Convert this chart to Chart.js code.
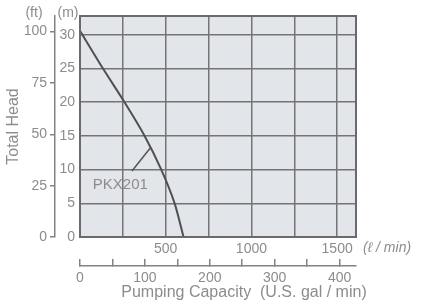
<!DOCTYPE html>
<html>
<head>
<meta charset="utf-8">
<script src="https://cdn.jsdelivr.net/npm/chart.js@4"></script>
<style>
  html, body { margin: 0; padding: 0; background: #fff; }
</style>
</head>
<body>
<canvas id="c" width="428" height="307"></canvas>
<script>
// pump curve
const flowLpm = [0, 134, 260, 377, 474, 552, 604];
const headM = [30.6, 25, 20, 15, 10, 5, 0];

const lpmTicks = [0, 250, 500, 750, 1000, 1250, 1500];
const lpmLabels = [500, 1000, 1500];
const mTicks = [0, 5, 10, 15, 20, 25, 30];
const ftTicks = [0, 25, 50, 75, 100];
const galTicks = [0, 50, 100, 150, 200, 250, 300, 350, 400];
const galLabels = [0, 100, 200, 300, 400];

const LPM_MAX = 1610;
const M_MAX = 32.8;
const FT_PER_M = 3.28084;
const L_PER_GAL = 3.78541;

const textColor = '#8c8c8c';
const gridColor = '#747474';
const axisColor = '#828282';

Chart.defaults.font.family = '"Liberation Sans", Arial, sans-serif';
Chart.defaults.font.size = 14;
Chart.defaults.color = textColor;

const setTicks = list => scale => { scale.ticks = list.map(v => ({ value: v })); };

const decor = {
  id: 'decor',
  beforeDraw(chart) {
    const { ctx, chartArea: a } = chart;
    ctx.save();
    ctx.fillStyle = '#e2e5ea';
    ctx.fillRect(a.left, a.top, a.right - a.left, a.bottom - a.top);
    ctx.restore();
  },
  afterDraw(chart) {
    const { ctx, chartArea: a, scales } = chart;
    ctx.save();
    ctx.strokeStyle = '#6a6a6a';
    ctx.lineWidth = 2;
    ctx.strokeRect(a.left, a.top, a.right - a.left, a.bottom - a.top);

    // leader line for the model name
    ctx.strokeStyle = '#555';
    ctx.lineWidth = 1.5;
    ctx.beginPath();
    ctx.moveTo(scales.x.getPixelForValue(303), scales.y.getPixelForValue(9.8));
    ctx.lineTo(scales.x.getPixelForValue(410), scales.y.getPixelForValue(13.2));
    ctx.stroke();

    ctx.fillStyle = textColor;
    ctx.textBaseline = 'middle';
    ctx.font = '15px "Liberation Sans", Arial, sans-serif';
    ctx.textAlign = 'left';
    ctx.fillText('PKX201', scales.x.getPixelForValue(75), scales.y.getPixelForValue(7.8));

    ctx.font = '14px "Liberation Sans", Arial, sans-serif';
    ctx.textAlign = 'center';
    ctx.fillText('(ft)', 34, 13);
    ctx.fillText('(m)', 68, 13);

    ctx.textAlign = 'left';
    ctx.font = 'italic 14px "Liberation Sans", Arial, sans-serif';
    ctx.fillText('(\u2113 / min)', a.right + 7, 248);

    ctx.textAlign = 'center';
    ctx.font = '16px "Liberation Sans", Arial, sans-serif';
    ctx.fillText('Pumping Capacity  (U.S. gal / min)', 244, 293);
    ctx.restore();
  }
};

new Chart(document.getElementById('c'), {
  type: 'line',
  data: {
    datasets: [{
      label: 'PKX201',
      data: flowLpm.map((f, i) => ({ x: f, y: headM[i] })),
      borderColor: '#505050',
      borderWidth: 2,
      pointRadius: 0,
      tension: 0.25
    }]
  },
  options: {
    responsive: false,
    animation: false,
    layout: { padding: { top: 16, right: 72, left: 0, bottom: 0 } },
    plugins: { legend: { display: false }, tooltip: { enabled: false } },
    scales: {
      x: {
        type: 'linear',
        position: 'bottom',
        min: 0,
        max: LPM_MAX,
        afterBuildTicks: setTicks(lpmTicks),
        afterFit: s => { s.height = 29; },
        grid: { color: gridColor, lineWidth: 1.5, drawTicks: false },
        border: { display: false },
        ticks: {
          padding: 4,
          autoSkip: false,
          maxRotation: 0,
          callback: v => lpmLabels.includes(v) ? String(v) : ''
        }
      },
      gal: {
        type: 'linear',
        position: 'bottom',
        weight: 1,
        min: 0,
        max: LPM_MAX / L_PER_GAL,
        afterBuildTicks: setTicks(galTicks),
        afterFit: s => { s.height = 41; },
        grid: { drawOnChartArea: false, drawTicks: true, tickLength: -7, color: axisColor, lineWidth: 1.5 },
        border: { display: true, color: axisColor, width: 1.5 },
        ticks: {
          padding: 11,
          autoSkip: false,
          maxRotation: 0,
          callback: v => galLabels.includes(v) ? String(v) : ''
        }
      },
      y: {
        type: 'linear',
        position: 'left',
        min: 0,
        max: M_MAX,
        afterBuildTicks: setTicks(mTicks),
        afterFit: s => { s.width = 25; },
        grid: { color: gridColor, lineWidth: 1.5, drawTicks: false },
        border: { display: false },
        ticks: { padding: 5 }
      },
      ft: {
        type: 'linear',
        position: 'left',
        weight: 1,
        min: 0,
        max: M_MAX * FT_PER_M,
        afterBuildTicks: setTicks(ftTicks),
        afterFit: s => { s.width = 55; },
        grid: { drawOnChartArea: false, drawTicks: true, tickLength: 5, color: axisColor, lineWidth: 1.5 },
        border: { display: true, color: axisColor, width: 1.5 },
        ticks: { padding: 3 },
        title: {
          display: true,
          text: 'Total Head',
          font: { size: 16 },
          padding: { top: 4, bottom: 0 }
        }
      }
    }
  },
  plugins: [decor]
});
</script>
</body>
</html>
